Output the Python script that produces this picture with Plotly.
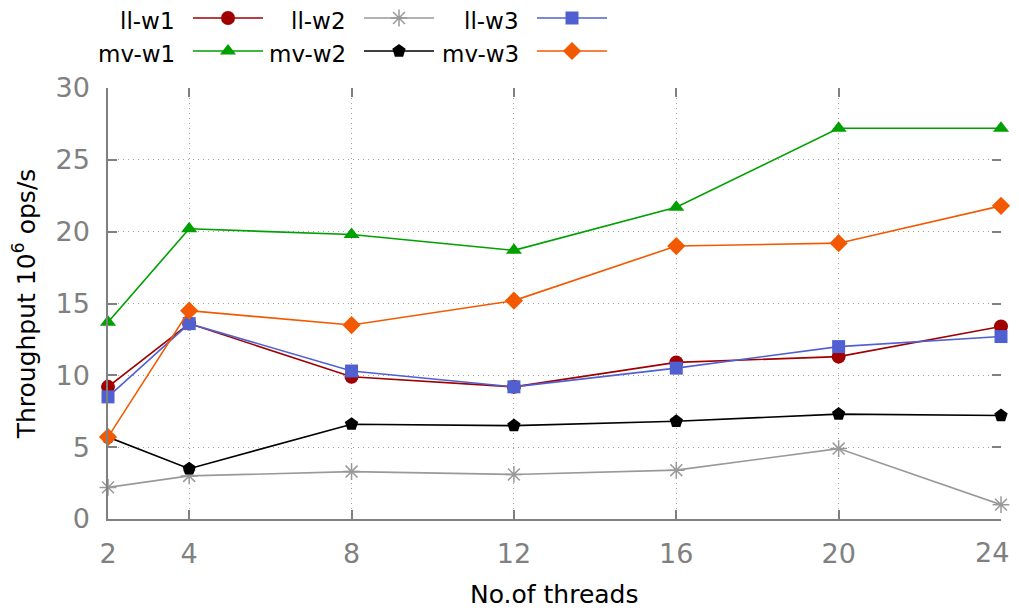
import plotly.graph_objects as go

threads = [2, 4, 8, 12, 16, 20, 24]
ll_w1 = [9.2, 13.6, 9.9, 9.2, 10.9, 11.3, 13.4]
ll_w2 = [2.2, 3.0, 3.3, 3.1, 3.4, 4.9, 1.0]
ll_w3 = [8.5, 13.6, 10.3, 9.2, 10.5, 12.0, 12.7]
mv_w1 = [13.7, 20.2, 19.8, 18.7, 21.7, 27.2, 27.2]
mv_w2 = [5.7, 3.5, 6.6, 6.5, 6.8, 7.3, 7.2]
mv_w3 = [5.7, 14.5, 13.5, 15.2, 19.0, 19.2, 21.8]

x_ticks = [2, 4, 8, 12, 16, 20, 24]
x_tick_labels = ["2", "4", "8", "12", "16", "20", "24"]
y_ticks = [0, 5, 10, 15, 20, 25, 30]
x_title = "No.of threads"
y_title = "Throughput 10<sup>6</sup> ops/s"

series = [
    ("ll-w1", ll_w1, "#a00000", "circle", 14),
    ("ll-w2", ll_w2, "#999999", "asterisk-open", 14),
    ("ll-w3", ll_w3, "#5060d0", "square", 13),
    ("mv-w1", mv_w1, "#00a000", "triangle-up", 14),
    ("mv-w2", mv_w2, "#000000", "pentagon", 14),
    ("mv-w3", mv_w3, "#f25900", "diamond", 14),
]

OFF = 8  # page body margin
W, H = 1019 - OFF, 614 - OFF
PL, PR, PT, PB = 108 - OFF, 1001 - OFF, 88 - OFF, 519 - OFF
MB = H - PB
plot_h = H - MB
LEG_H = 70 - OFF

fig = go.Figure()

for name, vals, col, sym, sz in series:
    mk = dict(symbol=sym, size=sz, color=col)
    if sym == "asterisk-open":
        mk["line"] = dict(color=col, width=1.5)
    fig.add_trace(go.Scatter(
        x=threads, y=vals, mode="lines+markers", name=name,
        line=dict(color=col, width=1.6), marker=mk,
        cliponaxis=False, showlegend=False))

# mirror-tick helper trace
fig.add_trace(go.Scatter(x=[None], y=[None], xaxis="x2", yaxis="y2",
                         showlegend=False, hoverinfo="skip"))

# custom gnuplot-style legend (text then sample), page-pixel coordinates
leg_rows = [18 - OFF, 51 - OFF]
leg_text_end = [177 - OFF, 348 - OFF, 521 - OFF]
for i, (name, vals, col, sym, sz) in enumerate(series):
    r, c = divmod(i, 3)
    y = leg_rows[r]
    xe = leg_text_end[c]
    mk = dict(symbol=sym, size=sz, color=col)
    if sym == "asterisk-open":
        mk["line"] = dict(color=col, width=1.5)
    fig.add_trace(go.Scatter(
        x=[xe + 16, xe + 86], y=[y, y], xaxis="x3", yaxis="y3", mode="lines",
        line=dict(color=col, width=1.6), showlegend=False, hoverinfo="skip",
        cliponaxis=False))
    fig.add_trace(go.Scatter(
        x=[xe + 51], y=[y], xaxis="x3", yaxis="y3", mode="markers",
        marker=mk, showlegend=False, hoverinfo="skip", cliponaxis=False))
    fig.add_annotation(x=xe, y=y + 3, xref="x3", yref="y3", text=name,
                       showarrow=False, xanchor="right", yanchor="middle",
                       font=dict(size=23, color="black"))

grid = dict(showgrid=True, gridcolor="#a0a0a0", gridwidth=1, griddash="1px,4px")
tickfont = dict(size=27, color="#808080")

# last x tick label drawn right-aligned so it stays inside the visible page
shown_labels = x_tick_labels[:-1] + [""]
fig.add_annotation(x=x_ticks[-1], y=0, xref="x", yref="y", text=x_tick_labels[-1],
                   showarrow=False, xanchor="right", yanchor="middle",
                   xshift=10, yshift=-33, font=tickfont)

# x-axis title as annotation for exact placement
fig.add_annotation(x=(PL + PR) / 2 / W, y=0, xref="paper", yref="y", text=x_title,
                   showarrow=False, xanchor="center", yanchor="middle",
                   yshift=-75, font=dict(size=25, color="black"))

fig.update_layout(
    width=W, height=H,
    margin=dict(l=0, r=0, t=0, b=MB, autoexpand=False),
    paper_bgcolor="white", plot_bgcolor="white",
    font=dict(family="DejaVu Sans", color="black"),
    xaxis=dict(domain=[PL / W, PR / W], range=[2, 24], tickvals=x_ticks,
               ticktext=shown_labels,
               ticks="inside", ticklen=9, tickcolor="#808080", tickwidth=1.5,
               showline=True, linecolor="#808080", linewidth=1.5,
               zeroline=False, tickfont=tickfont, ticklabelstandoff=10,
               ticklabeloverflow="allow",
               automargin=False, anchor="y", **grid),
    yaxis=dict(domain=[0, (plot_h - PT) / plot_h], range=[0, 30], tickvals=y_ticks,
               ticks="inside", ticklen=9, tickcolor="#808080", tickwidth=1.5,
               showline=True, linecolor="#808080", linewidth=1.5,
               zeroline=False, tickfont=tickfont, ticklabelstandoff=11,
               ticklabeloverflow="allow",
               title=dict(text=y_title, font=dict(size=25), standoff=17),
               automargin=False, anchor="x", **grid),
    xaxis2=dict(overlaying="x", side="top", anchor="y2", range=[2, 24], tickvals=x_ticks,
                ticks="inside", ticklen=9, tickcolor="#808080", tickwidth=1.5,
                showticklabels=False, showgrid=False, showline=False, zeroline=False),
    yaxis2=dict(overlaying="y", side="right", anchor="x2", range=[0, 30], tickvals=y_ticks,
                ticks="inside", ticklen=9, tickcolor="#808080", tickwidth=1.5,
                showticklabels=False, showgrid=False, showline=False, zeroline=False),
    xaxis3=dict(domain=[0, 1], range=[0, W], visible=False, anchor="y3", fixedrange=True),
    yaxis3=dict(domain=[(plot_h - LEG_H) / plot_h, 1], range=[LEG_H, 0], visible=False,
                anchor="x3", fixedrange=True),
)

fig.write_html("out.html")
